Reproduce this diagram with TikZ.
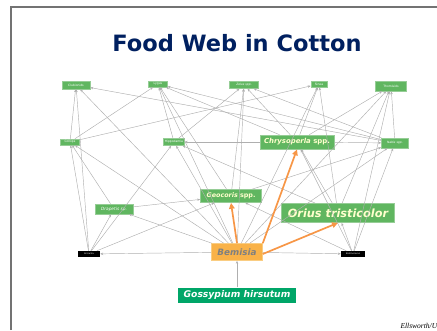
\documentclass[tikz,border=0pt]{standalone}
\usepackage{fontspec}
\usepackage{tikz}
\usetikzlibrary{arrows.meta}
\newfontfamily\vfont{DejaVu Sans}
\newfontfamily\footfont{Liberation Serif}
\definecolor{titleblue}{RGB}{0, 32, 96}
\definecolor{predgreen}{RGB}{96, 182, 96}
\definecolor{predline}{RGB}{150, 205, 150}
\definecolor{plantgreen}{RGB}{0, 166, 104}
\definecolor{pestorange}{RGB}{249, 178, 72}
\definecolor{pestline}{RGB}{250, 205, 130}
\definecolor{hotorange}{RGB}{247, 150, 70}
\definecolor{linkgray}{RGB}{175, 175, 175}
\definecolor{framegray}{RGB}{115, 115, 115}
\definecolor{paleyellow}{RGB}{255, 255, 205}

\begin{document}
\begin{tikzpicture}[x=1pt, y=-1pt,
    pred/.style={draw=predline, fill=predgreen, line width=0.5pt, inner sep=0pt,
                 text=white, font=\vfont\fontsize{3}{3}\selectfont},
    star/.style={draw=predline, fill=predgreen, line width=0.6pt, inner sep=0pt,
                 text=paleyellow, font=\vfont\bfseries\itshape},
    para/.style={fill=black, inner sep=0pt, text=white,
                 font=\vfont\fontsize{2.2}{2.2}\selectfont},
    link/.style={-{Stealth[length=3pt, width=2.4pt]}, draw=linkgray, line width=0.45pt},
    hot/.style={-{Triangle[length=6pt, width=5.5pt]}, draw=hotorange, line width=1.7pt},
]
\useasboundingbox (0,0) rectangle (437,330);
\draw[framegray, line width=1.2pt] (11,330) -- (11,7) -- (437,7);

\node[text=titleblue, font=\vfont\bfseries\fontsize{22.5}{23}\selectfont] (title) at (237,43) {Food Web in Cotton};

% top row
\node[pred, minimum width=28pt, minimum height=8pt] (club) at (76,85) {Clubionids};
\node[pred, minimum width=19pt, minimum height=6pt] (lyg) at (158,84) {Lygus};
\node[pred, minimum width=29pt, minimum height=7pt] (zel) at (244,85) {\itshape Zelus spp.};
\node[pred, minimum width=16pt, minimum height=6pt] (sin) at (319,84) {Sinea};
\node[pred, minimum width=31pt, minimum height=10pt] (tho) at (391,86) {Thomisids};

% second row
\node[pred, minimum width=19pt, minimum height=6pt] (col) at (70,142) {Collops};
\node[pred, minimum width=21pt, minimum height=7pt] (hip) at (174,142) {Hippodamia};
\node[star, minimum width=74pt, minimum height=14pt, font=\vfont\bfseries\fontsize{6.9}{7}\selectfont] (chr) at (297,142) {\itshape Chrysoperla\/ \upshape spp.};
\node[pred, minimum width=27pt, minimum height=10pt] (nab) at (395,143) {\itshape Nabis spp.};

% third row
\node[pred, minimum width=38pt, minimum height=10pt, font=\vfont\itshape\fontsize{4.3}{4.3}\selectfont] (dra) at (114,209) {Drapetis sp.};
\node[star, minimum width=61pt, minimum height=13pt, font=\vfont\bfseries\fontsize{6.4}{7}\selectfont] (geo) at (231,196) {\itshape Geocoris\/ \upshape spp.};
\node[star, minimum width=113pt, minimum height=19pt, font=\vfont\bfseries\itshape\fontsize{11.3}{12}\selectfont] (ori) at (338,213) {Orius tristicolor};

% prey row
\node[para, minimum width=22pt, minimum height=6pt] (enc) at (89,254) {Encarsia};
\node[draw=pestline, fill=pestorange, line width=0.6pt, inner sep=0pt, minimum width=51pt, minimum height=17pt,
      text=gray, font=\vfont\bfseries\itshape\fontsize{8.8}{9}\selectfont] (bem) at (237,252) {Bemisia};
\node[para, minimum width=24pt, minimum height=6pt] (ere) at (353,254) {Eretmocerus};

% plant
\node[fill=plantgreen, inner sep=0pt, minimum width=118pt, minimum height=15pt,
      text=white, font=\vfont\bfseries\itshape\fontsize{9.2}{9.5}\selectfont] (gos) at (237,295) {Gossypium hirsutum};

% gray links, prey -> predator
\draw[link] (gos) -- (bem);
\foreach \p in {enc, ere, dra, hip, col, club, lyg, zel, sin, tho, nab}
  \draw[link] (bem) -- (\p);
\foreach \p in {col, hip, dra, geo, club}
  \draw[link] (enc) -- (\p);
\foreach \p in {ori, geo, chr, nab, tho}
  \draw[link] (ere) -- (\p);
\draw[link] (dra) -- (geo);
\draw[link] (dra) -- (col);
\draw[link] (geo) -- (zel);
\draw[link] (geo) -- (lyg);
\draw[link] (geo) -- (nab);
\draw[link] (ori) -- (chr);
\draw[link] (ori) -- (hip);
\draw[link] (ori) -- (tho);
\draw[link] (ori) -- (sin);
\draw[link] (chr) -- (nab);
\draw[link] (chr) -- (hip);
\draw[link] (chr) -- (zel);
\draw[link] (chr) -- (sin);
\draw[link] (chr) -- (tho);
\draw[link] (chr) -- (lyg);
\draw[link] (hip) -- (lyg);
\draw[link] (hip) -- (zel);
\draw[link] (col) -- (lyg);
\draw[link] (col) -- (sin);
\draw[link] (col) -- (club);
\draw[link] (nab) -- (club);
\draw[link] (nab) -- (tho);
\draw[link] (nab) -- (zel);
\draw[link] (nab) -- (lyg);

% Bemisia predators
\draw[hot] (bem.north) -- (geo.south);
\draw[hot] (bem.north east) -- (chr.south);
\draw[hot] ([yshift=-2pt]bem.east) -- (ori.south);

\node[anchor=west, font=\footfont\itshape\fontsize{7.5}{8}\selectfont] (credit) at (397,326) {Ellsworth/U};
\end{tikzpicture}
\end{document}
